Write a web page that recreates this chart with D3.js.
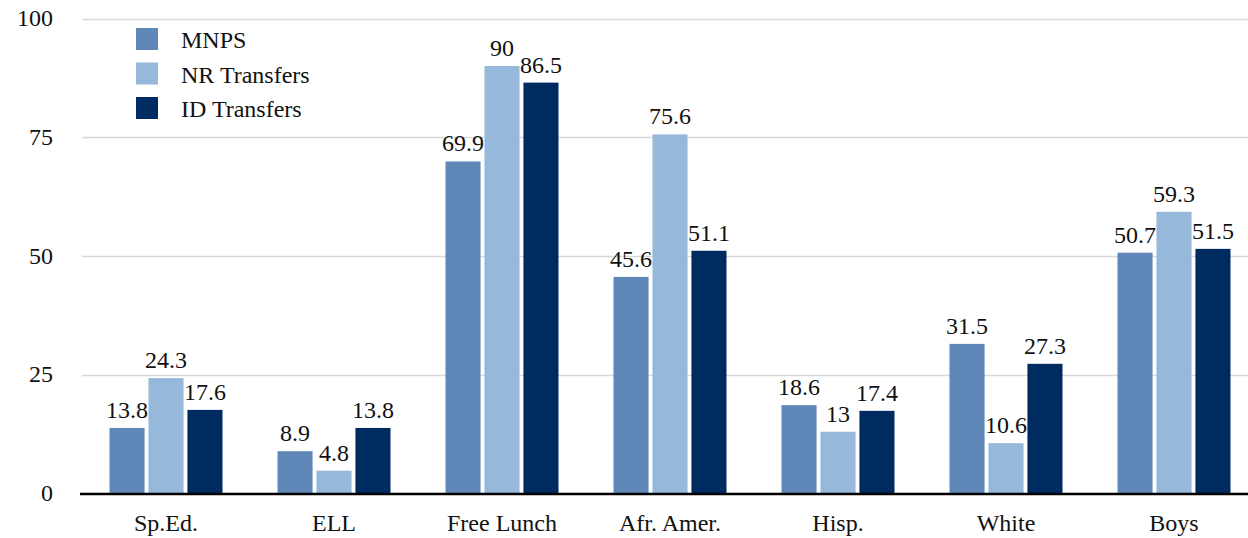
<!DOCTYPE html>
<html>
<head>
<meta charset="utf-8">
<script src="https://cdn.jsdelivr.net/npm/d3@7"></script>
<style>
  html, body { margin: 0; padding: 0; background: #fff; }
</style>
</head>
<body>
<svg id="chart" width="1248" height="538"></svg>
<script>
// Student group shares (%) by school population
const categories = ["Sp.Ed.", "ELL", "Free Lunch", "Afr. Amer.", "Hisp.", "White", "Boys"];
const seriesNames = ["MNPS", "NR Transfers", "ID Transfers"];
const mnps        = [13.8, 8.9, 69.9, 45.6, 18.6, 31.5, 50.7];
const nrTransfers = [24.3, 4.8, 90, 75.6, 13, 10.6, 59.3];
const idTransfers = [17.6, 13.8, 86.5, 51.1, 17.4, 27.3, 51.5];
const yTicks = [0, 25, 50, 75, 100];
const colors = ["#5f87b8", "#95b8db", "#002b60"];

const seriesValues = [mnps, nrTransfers, idTransfers];
const rows = categories.map((c, i) => ({
  category: c,
  values: seriesNames.map((s, j) => ({ series: s, value: seriesValues[j][i], idx: j }))
}));

const FONT = "'Liberation Serif', 'Times New Roman', serif";
const svg = d3.select("#chart").attr("font-family", FONT);
const fontSize = 24;

const x0 = d3.scaleBand().domain(categories).range([82, 1258]).padding(0);
const groupW = 113;
const x1 = d3.scaleBand().domain(seriesNames)
  .range([(x0.bandwidth() - groupW) / 2, (x0.bandwidth() + groupW) / 2])
  .paddingInner(0.1);
const y = d3.scaleLinear().domain([0, 100]).range([493.5, 18.5]);

// gridlines
svg.append("g")
  .selectAll("line")
  .data(yTicks.filter(t => t > 0))
  .join("line")
  .attr("x1", 82).attr("x2", 1248)
  .attr("y1", d => Math.round(y(d)) + 0.5).attr("y2", d => Math.round(y(d)) + 0.5)
  .attr("stroke", "#d9d9d9").attr("stroke-width", 1.5);

// y axis labels
const yAxis = d3.axisLeft(y).tickValues(yTicks).tickSize(0).tickPadding(0);
const yg = svg.append("g").attr("transform", "translate(53,0)").call(yAxis)
  .attr("font-family", FONT).attr("font-size", fontSize);
yg.select(".domain").remove();
yg.selectAll("text").attr("fill", "#111").attr("dy", "0.3em");

// bars
const groups = svg.append("g").selectAll("g")
  .data(rows).join("g")
  .attr("transform", d => `translate(${x0(d.category)},0)`);

groups.selectAll("rect")
  .data(d => d.values).join("rect")
  .attr("x", d => x1(d.series))
  .attr("width", x1.bandwidth())
  .attr("y", d => y(d.value))
  .attr("height", d => y(0) - y(d.value))
  .attr("fill", d => colors[d.idx]);

groups.selectAll("text.val")
  .data(d => d.values).join("text")
  .attr("class", "val")
  .attr("x", d => x1(d.series) + x1.bandwidth() / 2)
  .attr("y", d => y(d.value) - 10)
  .attr("text-anchor", "middle")
  .attr("font-size", fontSize)
  .attr("fill", "#111")
  .text(d => d.value);

// x axis
const xAxis = d3.axisBottom(x0).tickSize(0).tickPadding(0);
const xg = svg.append("g").attr("transform", "translate(0,494)").call(xAxis)
  .attr("font-family", FONT).attr("font-size", fontSize);
xg.select(".domain").remove();
xg.selectAll("text").attr("fill", "#111").attr("dy", 0).attr("y", 37);
svg.append("line")
  .attr("x1", 80).attr("x2", 1248)
  .attr("y1", y(0) + 0.5).attr("y2", y(0) + 0.5)
  .attr("stroke", "#000").attr("stroke-width", 2.5);

// legend
const legend = svg.append("g").attr("transform", "translate(136,28)");
const li = legend.selectAll("g").data(seriesNames).join("g")
  .attr("transform", (d, i) => `translate(0,${i * 34.5})`);
li.append("rect").attr("width", 22).attr("height", 22).attr("fill", (d, i) => colors[i]);
li.append("text").attr("x", 45).attr("y", 20).attr("font-size", fontSize).attr("fill", "#111").text(d => d);
</script>
</body>
</html>
